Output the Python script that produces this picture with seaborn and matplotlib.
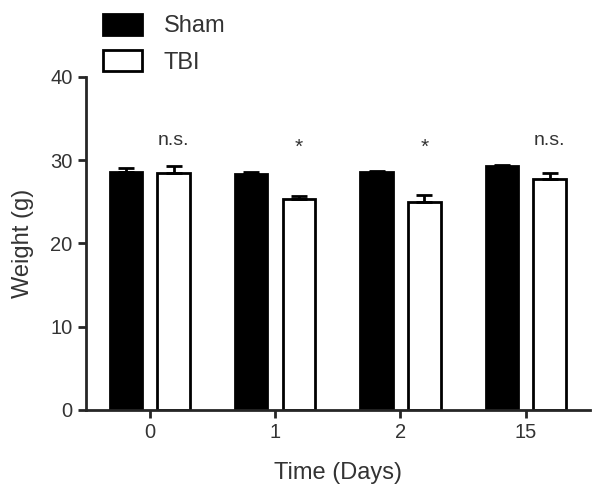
import numpy as np
import pandas as pd
import matplotlib
matplotlib.use('Agg')
import matplotlib.pyplot as plt
import seaborn as sns
from matplotlib.patches import Patch

# values
days = ['0', '1', '2', '15']
groups = ['Sham', 'TBI']
sham_mean = [28.6, 28.4, 28.6, 29.3]
sham_sem = [0.5, 0.2, 0.15, 0.15]
tbi_mean = [28.5, 25.3, 25.0, 27.7]
tbi_sem = [0.8, 0.4, 0.8, 0.8]
labels = ['n.s.', '*', '*', 'n.s.']

sns.set_style('ticks')
plt.rcParams['font.family'] = ['Liberation Sans', 'DejaVu Sans']
text_col = '#333333'

df = pd.DataFrame({
    'Time': days * 2,
    'Weight': sham_mean + tbi_mean,
    'Group': ['Sham'] * 4 + ['TBI'] * 4,
})

fig = plt.figure(figsize=(6, 5.03), dpi=100)
ax = fig.add_axes([0.143, 0.185, 0.84, 0.662])

sns.barplot(data=df, x='Time', y='Weight', hue='Group', order=days,
            hue_order=groups, palette=['black', 'white'], edgecolor='black',
            linewidth=2, width=0.76, gap=0.32, errorbar=None, legend=False, ax=ax)

# upward-only error bars and significance marks
errs = sham_sem + tbi_sem
bars = ax.patches[:8]
for bar, e in zip(bars, errs):
    xc = bar.get_x() + bar.get_width() / 2
    h = bar.get_height()
    ax.errorbar(xc, h, yerr=[[0], [e]], fmt='none', ecolor='black',
                elinewidth=2, capsize=6, capthick=2, zorder=1)

for i, lab in enumerate(labels):
    bar = bars[4 + i]
    xc = bar.get_x() + bar.get_width() / 2
    ypos = 31.4 if lab == 'n.s.' else 30.4
    ax.text(xc, ypos, lab, ha='center', va='bottom', fontsize=14 if lab == 'n.s.' else 15,
            color=text_col)

ax.set_ylim(0, 40)
ax.set_xlim(-0.51, 3.51)
ax.set_yticks([0, 10, 20, 30, 40])
ax.set_xlabel('Time (Days)', fontsize=17, color=text_col, labelpad=14)
ax.set_ylabel('Weight (g)', fontsize=17, color=text_col, labelpad=12)
ax.tick_params(axis='both', labelsize=14.5, labelcolor=text_col, width=2, length=6)
for s in ['left', 'bottom']:
    ax.spines[s].set_linewidth(2)
sns.despine(ax=ax)

handles = [Patch(facecolor='black', edgecolor='black', linewidth=2),
           Patch(facecolor='white', edgecolor='black', linewidth=2)]
leg = fig.legend(handles, groups, loc='upper left', bbox_to_anchor=(0.137, 1.015),
                 frameon=False, fontsize=17, handlelength=1.65, handleheight=1.0,
                 handletextpad=0.9, labelspacing=0.55)
for t in leg.get_texts():
    t.set_color(text_col)

fig.savefig('out.png', dpi=100)
